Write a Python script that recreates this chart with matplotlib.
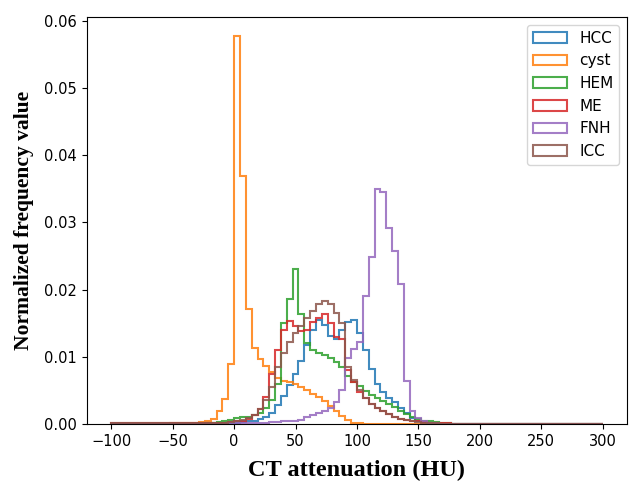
import numpy as np
import matplotlib
matplotlib.use("Agg")
import matplotlib.pyplot as plt

# Histogram bin edges (HU): 84 bins over [-100, 300]
hu_min, hu_max, n_bins = -100, 300, 84

labels = ["HCC", "cyst", "HEM", "ME", "FNH", "ICC"]

hcc = [0.00005]*16 + [
    0.0001, 0.0001, 0.0001, 0.0001,
    0.0002, 0.0002, 0.0003, 0.0004, 0.0005, 0.0007, 0.0010, 0.0016, 0.0028, 0.0042,
    0.0058, 0.0074, 0.0094, 0.0118, 0.0140, 0.0155, 0.0147, 0.0131, 0.0127, 0.0140,
    0.0152, 0.0155, 0.0135, 0.0110, 0.0082, 0.0060, 0.0048, 0.0039, 0.0032, 0.0024,
    0.0016, 0.0009, 0.0005, 0.0003, 0.0002, 0.0001] + [0.0]*28

cyst = [0.00005]*10 + [0.0001]*4 + [
    0.0002, 0.0003, 0.0005, 0.0008, 0.0019, 0.0037,
    0.0089, 0.0577, 0.0369, 0.0171, 0.0113, 0.0097, 0.0087, 0.0077, 0.0069, 0.0064,
    0.0062, 0.0059, 0.0055, 0.0050, 0.0045, 0.0040, 0.0034, 0.0027, 0.0020, 0.0012,
    0.0006, 0.0002, 0.0001, 0.00005] + [0.0]*40

hem = [0.00005]*16 + [
    0.0001, 0.0002, 0.0003, 0.0004,
    0.0006, 0.0009, 0.0010, 0.0011, 0.0013, 0.0017, 0.0024, 0.0036, 0.0060, 0.0150,
    0.0186, 0.0231, 0.0164, 0.0120, 0.0110, 0.0106, 0.0102, 0.0098, 0.0093, 0.0085,
    0.0072, 0.0062, 0.0056, 0.0049, 0.0043, 0.0039, 0.0034, 0.0030, 0.0025, 0.0020,
    0.0015, 0.0011, 0.0008, 0.0005, 0.0004, 0.0003, 0.0002, 0.0001, 0.00005] + [0.0]*25

me = [0.0001]*18 + [
    0.0002, 0.0002,
    0.0003, 0.0004, 0.0005, 0.0008, 0.0013, 0.0022, 0.0040, 0.0075, 0.0110, 0.0140,
    0.0153, 0.0146, 0.0138, 0.0140, 0.0152, 0.0158, 0.0163, 0.0150, 0.0130, 0.0127,
    0.0080, 0.0062, 0.0048, 0.0038, 0.0030, 0.0024, 0.0019, 0.0015, 0.0011, 0.0008,
    0.0006, 0.0005, 0.0004, 0.0003, 0.0002, 0.0002, 0.0001, 0.0001] + [0.0]*26

fnh = [0.0]*20 + [
    0.0001, 0.0001, 0.0001, 0.0001, 0.0002, 0.0002, 0.0002, 0.0003, 0.0003, 0.0004,
    0.0004, 0.0005, 0.0006, 0.0010, 0.0013, 0.0016, 0.0019, 0.0024, 0.0032, 0.0050,
    0.0098, 0.0112, 0.0122, 0.0190, 0.0248, 0.0350, 0.0346, 0.0292, 0.0258, 0.0208,
    0.0064, 0.0019, 0.0009, 0.0004, 0.0002, 0.0001] + [0.0]*28

icc = [0.0001]*17 + [
    0.0002, 0.0002, 0.0002,
    0.0003, 0.0004, 0.0006, 0.0009, 0.0014, 0.0022, 0.0035, 0.0055, 0.0085, 0.0105,
    0.0122, 0.0135, 0.0146, 0.0158, 0.0168, 0.0178, 0.0183, 0.0178, 0.0165, 0.0150,
    0.0085, 0.0065, 0.0050, 0.0038, 0.0030, 0.0024, 0.0019, 0.0015, 0.0011, 0.0008,
    0.0006, 0.0004, 0.0003, 0.0002, 0.0002, 0.0001] + [0.00005]*28

series = [hcc, cyst, hem, me, fnh, icc]
colors = ["#1f77b4", "#ff7f0e", "#2ca02c", "#d62728", "#9467bd", "#8c564b"]

edges = np.linspace(hu_min, hu_max, n_bins + 1)

fig = plt.figure(figsize=(6.29, 4.84), dpi=100)
ax = fig.add_axes([0.138, 0.124, 0.859, 0.841])

for vals, lab, col in zip(series, labels, colors):
    ax.hist(edges[:-1], bins=edges, weights=np.asarray(vals), histtype="step",
            color=col, linewidth=1.5, alpha=0.85, label=lab)

ax.set_xticks([-100, -50, 0, 50, 100, 150, 200, 250, 300])
ax.set_yticks([0.0, 0.01, 0.02, 0.03, 0.04, 0.05, 0.06])
ax.tick_params(labelsize=10.5)

ax.set_xlabel("CT attenuation (HU)", family="Liberation Serif", fontweight="bold",
              fontsize=17.5, labelpad=8)
ax.set_ylabel("Normalized frequency value", family="Liberation Serif", fontweight="bold",
              fontsize=15.5, labelpad=7)

ax.legend(loc="upper right", fontsize=11, handlelength=2.2)

fig.savefig("out.png", dpi=100)
